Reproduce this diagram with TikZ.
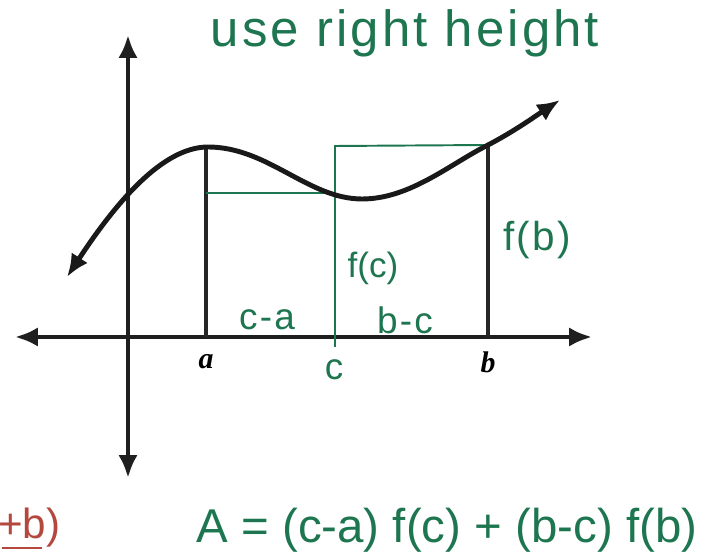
\documentclass[tikz,border=0pt]{standalone}
\usepackage{fontspec}
\setmainfont{Liberation Sans}
\newfontfamily\tickfont{Liberation Serif}
\newfontfamily\spacedfont[LetterSpace=6]{Liberation Sans}
\usetikzlibrary{arrows.meta}
\definecolor{penGreen}{RGB}{30,118,80}
\definecolor{penRed}{RGB}{180,72,62}
\tikzset{
  both tips/.style={{Latex[length=13pt,width=11pt]}-{Latex[length=13pt,width=11pt]}},
  axis/.style={line width=2.6pt,black!88,both tips},
  graph/.style={line width=2.8pt,black!90,both tips},
  bar/.style={line width=2.2pt,black!85},
  rect/.style={line width=1.1pt,penGreen},
  pen/.style={text=penGreen,inner sep=1pt},
  ticklabel/.style={font=\tickfont\bfseries\itshape\fontsize{17}{20}\selectfont,inner sep=1pt}
}
\begin{document}
\begin{tikzpicture}[x=0.02cm,y=0.02cm]
  \useasboundingbox (0,0) rectangle (707,554);
  % axes
  \coordinate (xL) at (15,217);
  \coordinate (xR) at (592,217);
  \coordinate (yT) at (128,519);
  \coordinate (yB) at (128,76);
  \draw[axis] (xL) -- (xR);
  \draw[axis] (yB) -- (yT);

  % heights at a and b
  \coordinate (aFoot) at (206,217);
  \coordinate (aTop) at (206,407);
  \coordinate (bFoot) at (488,217);
  \coordinate (bTop) at (488,409);
  \draw[bar] (aFoot) -- (aTop);
  \draw[bar] (bFoot) -- (bTop);

  % right height rectangles
  \coordinate (cFoot) at (335,207);
  \coordinate (cTop) at (335,408);
  \coordinate (cMid) at (335,361);
  \coordinate (aMid) at (206,361);
  \draw[rect] (cFoot) -- (cTop) -- (bTop);
  \draw[rect] (aMid) -- (cMid);

  % the function
  \coordinate (fStart) at (67,277);
  \coordinate (fMax) at (208,407);
  \coordinate (fMin) at (362,355);
  \coordinate (fEnd) at (560,454);
  \draw[graph] (fStart) .. controls (115,350) and (162,407) .. (fMax)
    .. controls (268,407) and (308,355) .. (fMin)
    .. controls (410,355) and (450,390) .. (bTop)
    .. controls (515,423) and (540,441) .. (fEnd);

  % labels
  \node[ticklabel] (lblA) at (206,192) {a};
  \node[ticklabel] (lblB) at (488,192) {b};
  \node[pen,font=\fontsize{21}{24}\selectfont] (lblC) at (334,184) {c};
  \node[pen,font=\spacedfont\fontsize{21}{24}\selectfont] (lblCA) at (267,234) {c-a};
  \node[pen,font=\spacedfont\fontsize{21}{24}\selectfont] (lblBC) at (405,234) {b-c};
  \node[pen,font=\fontsize{20}{23}\selectfont] (lblFc) at (373,286) {f(c)};
  \node[pen,font=\spacedfont\fontsize{23}{26}\selectfont] (lblFb) at (537,314) {f(b)};
  \node[pen,font=\spacedfont\fontsize{29}{34}\selectfont] (lblUse) at (405,521) {use right height};
  \node[pen,font=\fontsize{27}{32}\selectfont] (lblArea) at (447,24) {A = (c-a) f(c) + (b-c) f(b)};
  \node[text=penRed,inner sep=1pt,font=\fontsize{24}{28}\selectfont,anchor=west] (lblRed) at (-4,26) {+b)};
  \draw[penRed,line width=1.4pt] (lblRed.south west) ++(6,2) -- ++(40,0);
\end{tikzpicture}
\end{document}
